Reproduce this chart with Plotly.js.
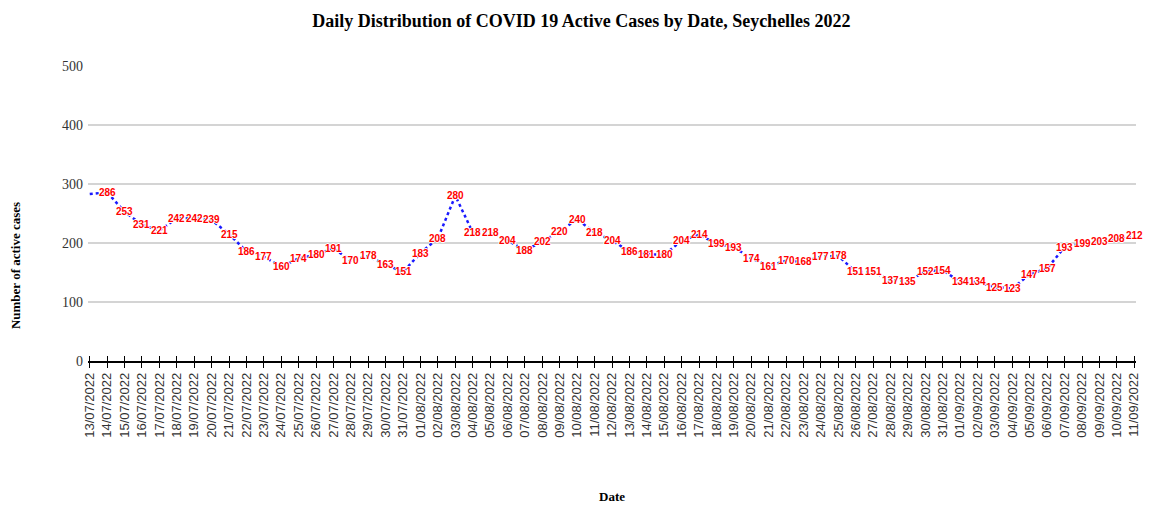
<!DOCTYPE html>
<html>
<head>
<meta charset="utf-8">
<script src="https://cdn.plot.ly/plotly-3.0.1.min.js"></script>
<style>html,body{margin:0;padding:0;background:#fff;}#chart{width:1149px;height:508px;}</style>
</head>
<body>
<div id="chart"></div>
<script>
const dates = [
  "13/07/2022","14/07/2022","15/07/2022","16/07/2022","17/07/2022","18/07/2022","19/07/2022",
  "20/07/2022","21/07/2022","22/07/2022","23/07/2022","24/07/2022","25/07/2022","26/07/2022",
  "27/07/2022","28/07/2022","29/07/2022","30/07/2022","31/07/2022","01/08/2022","02/08/2022",
  "03/08/2022","04/08/2022","05/08/2022","06/08/2022","07/08/2022","08/08/2022","09/08/2022",
  "10/08/2022","11/08/2022","12/08/2022","13/08/2022","14/08/2022","15/08/2022","16/08/2022",
  "17/08/2022","18/08/2022","19/08/2022","20/08/2022","21/08/2022","22/08/2022","23/08/2022",
  "24/08/2022","25/08/2022","26/08/2022","27/08/2022","28/08/2022","29/08/2022","30/08/2022",
  "31/08/2022","01/09/2022","02/09/2022","03/09/2022","04/09/2022","05/09/2022","06/09/2022",
  "07/09/2022","08/09/2022","09/09/2022","10/09/2022","11/09/2022"
];
const activeCases = [
  283, 286, 253, 231, 221, 242, 242, 239, 215, 186, 177, 160, 174, 180, 191, 170, 178, 163, 151,
  183, 208, 280, 218, 218, 204, 188, 202, 220, 240, 218, 204, 186, 181, 180, 204, 214, 199, 193,
  174, 161, 170, 168, 177, 178, 151, 151, 137, 135, 152, 154, 134, 134, 125, 123, 147, 157, 193,
  199, 203, 208, 212
];
// the first point carries no visible label in the reference
const labelled = activeCases.map((v, i) => i > 0);

const chartTitle = "Daily Distribution of COVID 19 Active Cases by Date, Seychelles 2022";
const xTitle = "Date";
const yTitle = "Number of active cases";

const traces = [
  {
    x: dates, y: activeCases, type: "scatter", mode: "lines",
    line: {color: "#1a1aff", width: 2.5, dash: "dot"},
    hoverinfo: "x+y", showlegend: false
  },
  {
    x: dates, y: activeCases, type: "scatter", mode: "lines",
    xaxis: "x2", yaxis: "y",
    line: {color: "rgba(0,0,0,0)", width: 0},
    hoverinfo: "skip", showlegend: false
  }
];

const halo = "1px 0 0 #fff, -1px 0 0 #fff, 0 1px 0 #fff, 0 -1px 0 #fff";
const annotations = [];
dates.forEach((d, i) => {
  if (!labelled[i]) return;
  annotations.push({
    x: d, y: activeCases[i], xref: "x", yref: "y",
    text: String(activeCases[i]), showarrow: false,
    font: {family: "Liberation Sans, Arial, sans-serif", size: 10, color: "#ff0000", weight: "bold", shadow: halo},
    xanchor: "center", yanchor: "middle"
  });
});
annotations.push({
  text: "<b>" + yTitle + "</b>", xref: "paper", yref: "paper", x: -0.0697, y: 0.325,
  xanchor: "center", yanchor: "middle",
  textangle: -90, showarrow: false,
  font: {family: "Liberation Serif, Times New Roman, serif", size: 13, color: "#000"}
});
annotations.push({
  text: "<b>" + xTitle + "</b>", xref: "paper", yref: "paper", x: 0.5, y: -0.461,
  showarrow: false, xanchor: "center", yanchor: "middle",
  font: {family: "Liberation Serif, Times New Roman, serif", size: 13, color: "#000"}
});

const xCommon = {
  type: "category", range: [-0.1, 60.1], tickangle: -90,
  tickfont: {family: "Liberation Sans, Arial, sans-serif", size: 13, color: "#333"},
  showgrid: false, zeroline: false
};

const layout = {
  width: 1149, height: 508,
  margin: {l: 88, r: 13, t: 66, b: 147},
  paper_bgcolor: "#fff", plot_bgcolor: "#fff",
  title: {
    text: "<b>" + chartTitle + "</b>", xref: "container", yref: "container",
    x: 0.506, y: 0.96, xanchor: "center", yanchor: "middle",
    font: {family: "Liberation Serif, Times New Roman, serif", size: 18, color: "#000"}
  },
  xaxis: Object.assign({}, xCommon, {
    ticks: "outside", ticklen: 5, tickwidth: 1, tickcolor: "#000",
    showline: true, linecolor: "#000", linewidth: 1.5
  }),
  xaxis2: Object.assign({}, xCommon, {
    overlaying: "x", matches: "x", anchor: "y", side: "bottom",
    ticks: "inside", ticklen: 5, tickwidth: 1, tickcolor: "#000",
    showticklabels: false, showline: false
  }),
  yaxis: {
    range: [0, 500], tickvals: [0, 100, 200, 300, 400, 500],
    showgrid: true, gridcolor: "#d4d4d4", gridwidth: 1.2,
    zeroline: false, showline: false, ticks: "",
    tickfont: {family: "Liberation Serif, Times New Roman, serif", size: 14, color: "#333"},
    ticklabelstandoff: 4
  },
  annotations: annotations
};

Plotly.newPlot("chart", traces, layout, {displayModeBar: false, staticPlot: true});
</script>
</body>
</html>
